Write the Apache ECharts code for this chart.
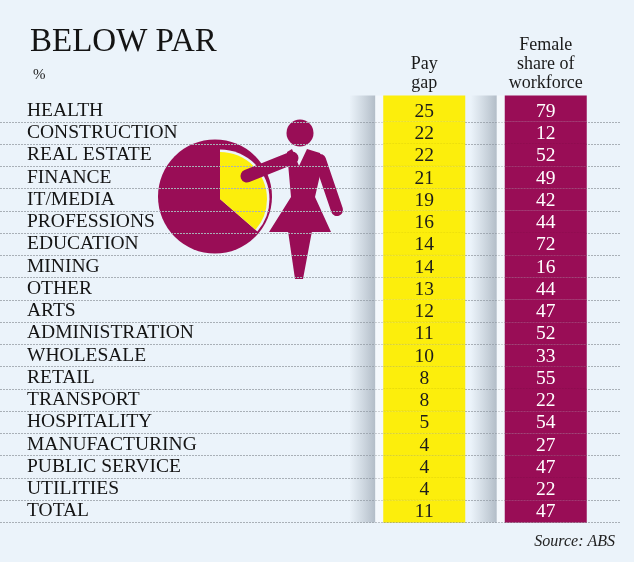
<!DOCTYPE html>
<html>
<head>
<meta charset="utf-8">
<script src="https://cdn.jsdelivr.net/npm/echarts@6/dist/echarts.min.js"></script>
<style>
  html, body { margin: 0; padding: 0; background: #ebf3fa; }
  #chart { width: 634px; height: 562px; }
</style>
</head>
<body>
<div id="chart"></div>
<script>
const categories = ['HEALTH', 'CONSTRUCTION', 'REAL ESTATE', 'FINANCE', 'IT/MEDIA', 'PROFESSIONS',
  'EDUCATION', 'MINING', 'OTHER', 'ARTS', 'ADMINISTRATION', 'WHOLESALE', 'RETAIL', 'TRANSPORT',
  'HOSPITALITY', 'MANUFACTURING', 'PUBLIC SERVICE', 'UTILITIES', 'TOTAL'];
const payGap = [25, 22, 22, 21, 19, 16, 14, 14, 13, 12, 11, 10, 8, 8, 5, 4, 4, 4, 11];
const femaleShare = [79, 12, 52, 49, 42, 44, 72, 16, 44, 47, 52, 33, 55, 22, 54, 27, 47, 22, 47];
const columns = ['Pay gap', 'Female share of workforce'];
const columnHeads = ['Pay\ngap', 'Female\nshare of\nworkforce'];

const serif = '"Liberation Serif", "DejaVu Serif", serif';
const purple = '#990d56';
const yellow = '#fcee0c';
const bg = '#ebf3fa';

// one custom series per column: a cell per row, drawn through the axes
const cellRenderer = (fill, textColor) => (params, api) => {
  const c = api.coord([api.value(0), api.value(1)]);
  const size = api.size([1, 1]);
  const w = 82;
  const x0 = c[0] - w / 2;
  let y0 = c[1] - size[1] / 2;
  let h = size[1];
  if (params.dataIndex === 0) { y0 -= 4; h += 4; }
  return {
    type: 'group',
    children: [
      {
        type: 'rect',
        shape: { x: x0 - 34, y: y0, width: 26, height: h },
        style: {
          fill: new echarts.graphic.LinearGradient(0, 0, 1, 0, [
            { offset: 0, color: 'rgba(150,162,175,0)' },
            { offset: 1, color: 'rgba(140,152,165,0.6)' }
          ])
        }
      },
      {
        type: 'rect',
        shape: { x: x0 - 8, y: y0, width: 8, height: h },
        style: { fill: 'rgba(255,255,255,0.45)' }
      },
      {
        type: 'rect',
        shape: { x: x0, y: y0, width: w, height: h },
        style: { fill: fill }
      },
      {
        type: 'line',
        shape: { x1: x0, y1: y0 + h, x2: x0 + w, y2: y0 + h },
        style: { stroke: 'rgba(0,0,0,0.12)', lineWidth: 1, lineDash: [2, 1] }
      },
      {
        type: 'text',
        style: {
          text: String(api.value(2)),
          x: c[0],
          y: c[1] + 1,
          align: 'center',
          verticalAlign: 'middle',
          fill: textColor,
          font: '19.5px ' + serif
        }
      }
    ]
  };
};

const chart = echarts.init(document.getElementById('chart'));

chart.setOption({
  backgroundColor: bg,
  animation: false,
  title: [
    {
      text: 'BELOW PAR',
      left: 25,
      top: 21,
      textStyle: { fontFamily: serif, fontSize: 33, fontWeight: 'normal', color: '#141414' }
    },
    {
      text: '%',
      left: 28,
      top: 63,
      textStyle: { fontFamily: serif, fontSize: 15, fontWeight: 'normal', color: '#222' }
    },
    {
      text: 'Source: ABS',
      right: 14,
      top: 529,
      textStyle: { fontFamily: serif, fontSize: 16, fontStyle: 'italic', fontWeight: 'normal', color: '#222' }
    }
  ],
  grid: [
    { left: 0, right: 14, top: 99.5, bottom: 39.5 },
    { left: 363.5, right: 27.5, top: 99.5, bottom: 39.5 }
  ],
  xAxis: [
    { gridIndex: 0, type: 'value', show: false, min: 0, max: 1 },
    {
      gridIndex: 1,
      type: 'category',
      position: 'top',
      data: columns,
      axisLine: { show: false },
      axisTick: { show: false },
      axisLabel: {
        margin: 7,
        fontFamily: serif,
        fontSize: 18,
        lineHeight: 19,
        color: '#1a1a1a',
        formatter: (v, i) => columnHeads[i]
      }
    }
  ],
  yAxis: [
    {
      gridIndex: 0,
      type: 'category',
      inverse: true,
      data: categories,
      axisLine: { show: false },
      axisTick: { show: false },
      axisLabel: {
        inside: true,
        interval: 0,
        margin: 27,
        fontFamily: serif,
        fontSize: 19.5,
        color: '#141414'
      },
      splitLine: {
        show: true,
        interval: (i) => i > 0,
        lineStyle: { color: '#a9b0b7', width: 1, type: [2, 1] }
      }
    },
    {
      gridIndex: 1,
      type: 'category',
      inverse: true,
      data: categories,
      show: false
    }
  ],
  graphic: [
    {
      type: 'group',
      z: 10,
      children: [
        { type: 'circle', shape: { cx: 215, cy: 196.5, r: 57 }, style: { fill: purple } },
        {
          type: 'sector',
          shape: { cx: 220, cy: 199, r: 49.5, r0: 0, startAngle: -Math.PI / 2, endAngle: 0.716, clockwise: true },
          style: { fill: bg }
        },
        {
          type: 'sector',
          shape: { cx: 220, cy: 199, r: 47, r0: 0, startAngle: -Math.PI / 2, endAngle: 0.716, clockwise: true },
          style: { fill: yellow }
        },
        {
          type: 'line',
          shape: { x1: 247, y1: 176, x2: 292, y2: 158 },
          style: { stroke: purple, lineWidth: 13, lineCap: 'round' }
        },
        {
          type: 'line',
          shape: { x1: 320, y1: 160, x2: 337, y2: 210 },
          style: { stroke: purple, lineWidth: 12, lineCap: 'round' }
        },
        { type: 'circle', shape: { cx: 300, cy: 133, r: 13.5 }, style: { fill: purple } },
        {
          type: 'polygon',
          shape: { points: [[287, 152], [292, 149], [299, 166], [307, 149], [320, 153], [323, 162],
            [315, 197], [331, 232], [269, 232], [291, 197]] },
          style: { fill: purple }
        },
        {
          type: 'polygon',
          shape: { points: [[288, 231], [312, 231], [303, 279], [295, 279]] },
          style: { fill: purple }
        }
      ]
    }
  ],
  series: [
    {
      name: columns[0],
      type: 'custom',
      xAxisIndex: 1,
      yAxisIndex: 1,
      renderItem: cellRenderer(yellow, '#1c1c1c'),
      data: payGap.map((v, i) => [0, i, v])
    },
    {
      name: columns[1],
      type: 'custom',
      xAxisIndex: 1,
      yAxisIndex: 1,
      renderItem: cellRenderer(purple, '#ffffff'),
      data: femaleShare.map((v, i) => [1, i, v])
    }
  ]
});
</script>
</body>
</html>
